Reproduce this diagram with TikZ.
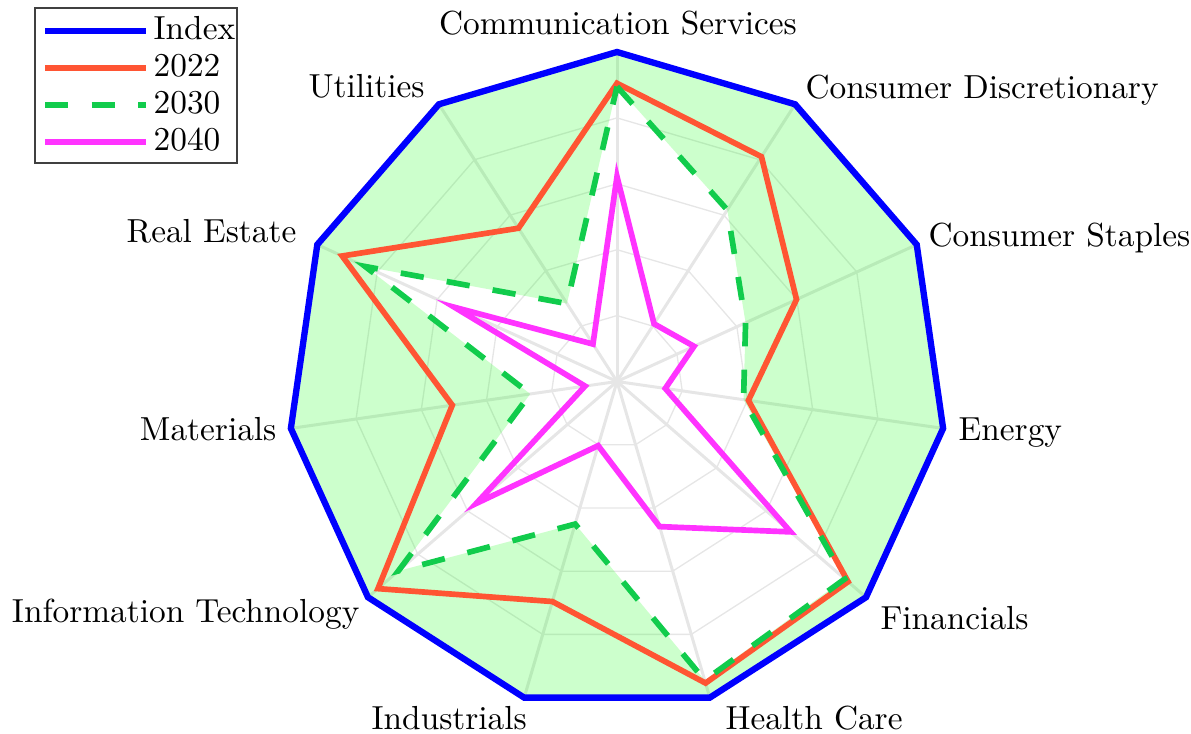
\documentclass[tikz,border=0pt]{standalone}
\usetikzlibrary{calc}
\definecolor{idxblue}{RGB}{0,0,255}
\definecolor{redtw}{RGB}{255,85,51}
\definecolor{greenth}{RGB}{17,204,76}
\definecolor{magfo}{RGB}{255,51,255}
\definecolor{gridgray}{RGB}{230,230,230}
\tikzset{
  axisline/.style={draw=gridgray, line width=0.9pt},
  ringline/.style={draw=gridgray, line width=0.4pt},
  idxline/.style={draw=idxblue, line width=1.9pt},
  lineA/.style={draw=redtw, line width=1.7pt},
  lineB/.style={draw=greenth, line width=1.7pt, dash pattern=on 7pt off 7pt},
  lineC/.style={draw=magfo, line width=1.7pt},
  lbl/.style={inner sep=0pt, font=\normalsize},
  legtext/.style={inner sep=0pt, anchor=base west, font=\normalsize},
}
\begin{document}
\begin{tikzpicture}[x=0.3pt,y=0.3pt]
\useasboundingbox (0,0) rectangle (1191,734);
\def\R{329.5}
\coordinate (C) at (617,352.5);
\begin{scope}[shift={(617,352.5)}]
% named vertices
\foreach \i in {0,...,10} {
  \coordinate (i\i) at ({90-\i*360/11}:\R);
}
\foreach \v [count=\i from 0] in {.905,.811,.599,.403,.928,.954,.696,.960,.505,.917,.553} {
  \coordinate (a\i) at ({90-\i*360/11}:{\v*\R});
}
\foreach \v [count=\i from 0] in {.895,.619,.429,.388,.915,.945,.451,.878,.266,.840,.281} {
  \coordinate (b\i) at ({90-\i*360/11}:{\v*\R});
}
\foreach \v [count=\i from 0] in {.622,.208,.257,.148,.697,.459,.203,.565,.098,.542,.135} {
  \coordinate (c\i) at ({90-\i*360/11}:{\v*\R});
}
% grid rings
\foreach \f in {0.2,0.4,0.6,0.8} {
  \draw[ringline] (90:{\f*\R}) \foreach \i in {1,...,10}{ -- ({90-\i*360/11}:{\f*\R}) } -- cycle;
}
% axes
\foreach \i in {0,...,10} {
  \draw[axisline] (C) -- (i\i);
}
% fill between index and 2030
\fill[green, fill opacity=0.2, even odd rule]
  (i0) \foreach \i in {1,...,10}{ -- (i\i) } -- cycle
  (b0) \foreach \i in {1,...,10}{ -- (b\i) } -- cycle;
% series
\draw[idxline] (i0) \foreach \i in {1,...,10}{ -- (i\i) } -- cycle;
\draw[lineA] (a0) \foreach \i in {1,...,10}{ -- (a\i) } -- cycle;
\draw[lineB] (b0) \foreach \i in {1,...,10}{ -- (b\i) } -- cycle;
\draw[lineC] (c0) \foreach \i in {1,...,10}{ -- (c\i) } -- cycle;
\end{scope}
% labels
\node[lbl, anchor=base] (l0) at (618,699) {Communication Services};
\node[lbl, anchor=base west] (l1) at (805,635) {Consumer Discretionary};
\node[lbl, anchor=base west] (l2) at (928,487) {Consumer Staples};
\node[lbl, anchor=base west] (l3) at (958,293) {Energy};
\node[lbl, anchor=base west] (l4) at (880,104) {Financials};
\node[lbl, anchor=base west] (l5) at (725,4) {Health Care};
\node[lbl, anchor=base west] (l6) at (371,4) {Industrials};
\node[lbl, anchor=base east] (l7) at (360,111) {Information Technology};
\node[lbl, anchor=base east] (l8) at (277,293) {Materials};
\node[lbl, anchor=base east] (l9) at (297,491) {Real Estate};
\node[lbl, anchor=base west] (l10) at (308,636) {Utilities};
% legend
\draw[draw=black!75, fill=white, line width=0.5pt] (35,726) rectangle (237,571);
\coordinate (s1) at (45,703); \coordinate (e1) at (146,703);
\coordinate (s2) at (45,666); \coordinate (e2) at (146,666);
\coordinate (s3) at (45,629); \coordinate (e3) at (146,629);
\coordinate (s4) at (45,592); \coordinate (e4) at (146,592);
\draw[idxline] (s1) -- (e1);
\draw[lineA] (s2) -- (e2);
\draw[lineB] (s3) -- (e3);
\draw[lineC] (s4) -- (e4);
\node[legtext] (t1) at (153,694) {Index};
\node[legtext] (t2) at (153,657) {2022};
\node[legtext] (t3) at (153,620) {2030};
\node[legtext] (t4) at (153,583) {2040};
\end{tikzpicture}
\end{document}
